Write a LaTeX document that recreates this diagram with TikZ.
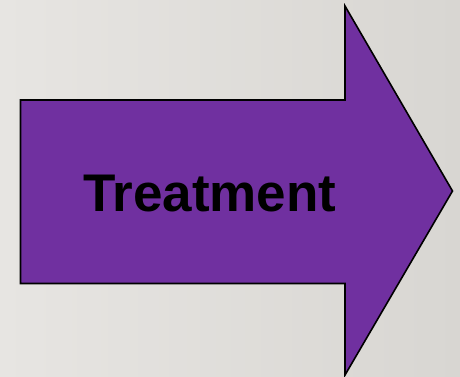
\documentclass[tikz,border=0pt]{standalone}
\usepackage{fontspec}
\setmainfont{Liberation Sans}
\definecolor{arrowpurple}{HTML}{7030A0}
\definecolor{bgleft}{HTML}{E7E5E2}
\definecolor{bgright}{HTML}{D8D6D2}
\begin{document}
\begin{tikzpicture}[x=1pt,y=1pt,
  arrowshape/.style={fill=arrowpurple,draw=black,line width=1.6pt,line join=miter},
  label/.style={font=\fontsize{53}{60}\selectfont\bfseries,text=black,inner sep=0pt}]
\useasboundingbox (0,0) rectangle (460,-376);
\shade[left color=bgleft,right color=bgright] (0,0) rectangle (460,-376);
\coordinate (sTL) at (20.5,-100);
\coordinate (sTR) at (345,-100);
\coordinate (hT) at (345,-6);
\coordinate (tip) at (452.5,-191);
\coordinate (hB) at (345,-375);
\coordinate (sBR) at (345,-283.5);
\coordinate (sBL) at (20.5,-283.5);
\draw[arrowshape] (sTL) -- (sTR) -- (hT) -- (tip) -- (hB) -- (sBR) -- (sBL) -- cycle;
\node[label,anchor=base] (t) at (209.7,-211.7) {Treatment};
\end{tikzpicture}
\end{document}
